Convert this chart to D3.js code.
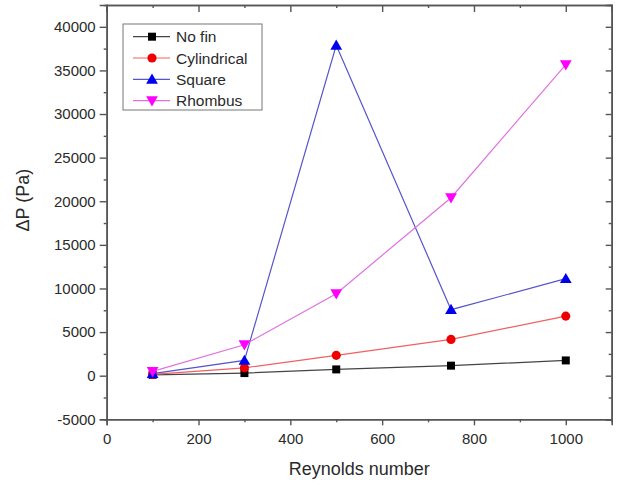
<!DOCTYPE html>
<html lang="en">
<head>
<meta charset="UTF-8">
<script src="https://d3js.org/d3.v7.min.js"></script>
<style>
  body { margin: 0; background: #fff; }
  text { font-family: "Liberation Sans", Arial, sans-serif; fill: #2a2a2a; }
</style>
</head>
<body>
<div id="chart_area"></div>
<script>
var reynolds = [100, 300, 500, 750, 1000];
var noFin = [100, 300, 720, 1150, 1750];
var cylindrical = [150, 900, 2330, 4160, 6830];
var square = [230, 1750, 37880, 7570, 11120];
var rhombus = [490, 3550, 9400, 20400, 35660];
var seriesNames = ["No fin", "Cylindrical", "Square", "Rhombus"];
var xTicks = [0, 200, 400, 600, 800, 1000];
var yTicks = [-5000, 0, 5000, 10000, 15000, 20000, 25000, 30000, 35000, 40000];

var W = 621, H = 485;
var margin = { top: 5, right: 9.3, bottom: 65.7, left: 106.7 },
    width = W - margin.left - margin.right,
    height = H - margin.top - margin.bottom;

var colors = ["#000000", "#ee0000", "#0000ee", "#ff00ff"];
var lineColors = ["#444444", "#f06060", "#5555cc", "#e070e0"];
var symbols = [d3.symbolSquare, d3.symbolCircle, d3.symbolTriangle, d3.symbolTriangle];
var symSizes = [64, 66, 60, 60];
var rotations = [0, 0, 0, 180];
var allSeries = [noFin, cylindrical, square, rhombus];

var plain = function(d) { return String(d); };

var svg = d3.select("#chart_area").append("svg")
  .attr("width", W).attr("height", H);
var g = svg.append("g")
  .attr("transform", "translate(" + margin.left + "," + margin.top + ")");

var x = d3.scaleLinear().domain([0, 1100]).range([0, width]);
var y = d3.scaleLinear().domain([-5000, 42500]).range([height, 0]);

var minorX = d3.range(100, 1100, 200);
var minorY = d3.range(-2500, 42500, 5000);

// bottom axis
var bx = g.append("g").attr("transform", "translate(0," + height + ")")
  .call(d3.axisBottom(x).tickValues(xTicks).tickSize(6).tickPadding(8).tickFormat(plain));
bx.selectAll("text").style("font-size", "15px");
g.append("g").attr("transform", "translate(0," + height + ")")
  .call(d3.axisBottom(x).tickValues(minorX).tickSize(3).tickFormat(""));
// left axis
var ly = g.append("g")
  .call(d3.axisLeft(y).tickValues(yTicks).tickSize(7).tickPadding(4).tickFormat(plain));
ly.selectAll("text").style("font-size", "15px");
g.append("g").call(d3.axisLeft(y).tickValues(minorY).tickSize(3).tickFormat(""));
// top / right mirrors, ticks inward
g.append("g").call(d3.axisTop(x).tickValues(xTicks).tickSize(-7).tickFormat(""));
g.append("g").call(d3.axisTop(x).tickValues(minorX).tickSize(-3).tickFormat(""));
g.append("g").attr("transform", "translate(" + width + ",0)")
  .call(d3.axisRight(y).tickValues(yTicks).tickSize(-6).tickFormat(""));
g.append("g").attr("transform", "translate(" + width + ",0)")
  .call(d3.axisRight(y).tickValues(minorY).tickSize(-3).tickFormat(""));

g.selectAll(".domain").attr("stroke", "#555").attr("stroke-width", 1.6);
g.selectAll(".tick line").attr("stroke", "#555").attr("stroke-width", 1.4);

// axis titles
svg.append("text")
  .attr("x", margin.left + x(550)).attr("y", 475)
  .attr("text-anchor", "middle").style("font-size", "18px")
  .text("Reynolds number");
svg.append("text")
  .attr("transform", "translate(29," + (margin.top + height / 2 - 12) + ") rotate(-90)")
  .attr("text-anchor", "middle").style("font-size", "18px")
  .text("\u0394P (Pa)");

var line = d3.line()
  .x(function(d) { return x(d[0]); })
  .y(function(d) { return y(d[1]); });

allSeries.forEach(function(vals, i) {
  var pts = reynolds.map(function(r, k) { return [r, vals[k]]; });
  g.append("path").datum(pts)
    .attr("fill", "none")
    .attr("stroke", lineColors[i])
    .attr("stroke-width", 1.2)
    .attr("d", line);
  g.selectAll(".m" + i).data(pts).enter().append("path")
    .attr("class", "m" + i)
    .attr("d", d3.symbol().type(symbols[i]).size(symSizes[i]))
    .attr("fill", colors[i])
    .attr("transform", function(d) {
      return "translate(" + x(d[0]) + "," + (y(d[1]) + (i === 2 ? 1 : i === 3 ? -1 : 0)) + ") rotate(" + rotations[i] + ")";
    });
});

// legend
var leg = svg.append("g").attr("transform", "translate(123,24)");
leg.append("rect").attr("width", 139).attr("height", 86)
  .attr("fill", "#fff").attr("stroke", "#777").attr("stroke-width", 1);
seriesNames.forEach(function(name, i) {
  var yy = 12.7 + i * 21.3;
  leg.append("line").attr("x1", 10).attr("x2", 47).attr("y1", yy).attr("y2", yy)
    .attr("stroke", lineColors[i]).attr("stroke-width", 1.2);
  leg.append("path")
    .attr("d", d3.symbol().type(symbols[i]).size(symSizes[i]))
    .attr("fill", colors[i])
    .attr("transform", "translate(29," + (yy + (i === 2 ? 1 : i === 3 ? -1 : 0)) + ") rotate(" + rotations[i] + ")");
  leg.append("text").attr("x", 53).attr("y", yy + 5.5)
    .style("font-size", "15.5px").text(name);
});
</script>
</body>
</html>
